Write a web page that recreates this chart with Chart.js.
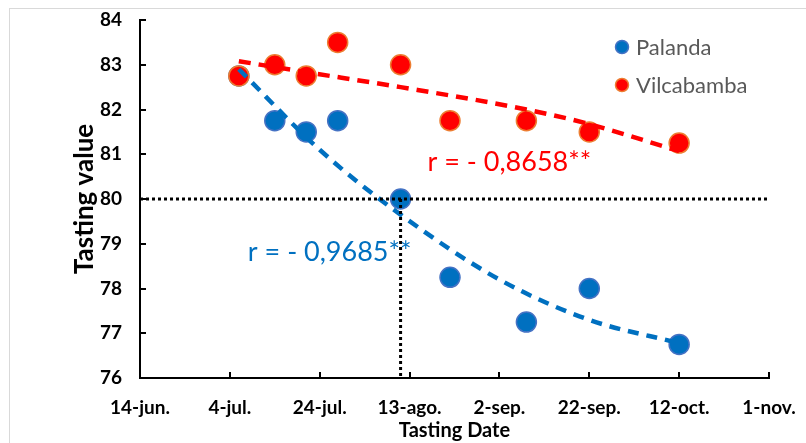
<!DOCTYPE html>
<html>
<head>
<meta charset="utf-8">
<script src="https://cdn.jsdelivr.net/npm/chart.js@4.4.1/dist/chart.umd.min.js"></script>
<style>
html, body { margin: 0; padding: 0; background: #fff; overflow: hidden; }
#wrap { position: relative; width: 806px; height: 443px; overflow: hidden; }
#frame { position: absolute; left: 9px; top: 8px; width: 900px; height: 500px; border: 1.5px solid #d9d9d9; }
#cut { position: absolute; left: 2px; top: -15px; font: bold 17px "Liberation Serif"; color: #000; white-space: nowrap; }
canvas { position: absolute; left: 0; top: 0; }
</style>
</head>
<body>
<div id="wrap">
  <div id="cut">colonization will be on the total taste evaluation.</div>
  <div id="frame"></div>
  <canvas id="tastingChart" width="806" height="443"></canvas>
</div>
<script>
// tasting dates (month-day) and values
const tastingDates = ['07-06', '07-14', '07-21', '07-28', '08-11', '08-22', '09-08', '09-22', '10-12'];
const palanda = [82.75, 81.75, 81.5, 81.75, 80.0, 78.25, 77.25, 78.0, 76.75];
const vilcabamba = [82.75, 83.0, 82.75, 83.5, 83.0, 81.75, 81.75, 81.5, 81.25];

// trend curves
const palandaTrendDates = ['07-06', '07-24', '08-11', '09-02', '09-22', '10-12'];
const palandaTrend = [82.9, 81.1, 79.65, 78.2, 77.3, 76.78];
const vilcabambaTrendDates = ['07-06', '07-20', '08-11', '09-08', '09-21', '10-12'];
const vilcabambaTrend = [83.08, 82.85, 82.5, 82.0, 81.7, 81.07];

// axis
const axisStart = '06-14';
const axisEnd = '11-01';
const xTickLabels = ['14-jun.', '4-jul.', '24-jul.', '13-ago.', '2-sep.', '22-sep.', '12-oct.', '1-nov.'];
const yMin = 76, yMax = 84;

// reference cross lines
const crossDate = '08-11';
const crossValue = 80;

const rPalanda = 'r = - 0,9685**';
const rVilcabamba = 'r = - 0,8658**';

function dayOf(md) {
    const [m, d] = md.split('-').map(Number);
    const [m0, d0] = axisStart.split('-').map(Number);
    return (Date.UTC(2019, m - 1, d) - Date.UTC(2019, m0 - 1, d0)) / 86400000;
}
function toPoints(dates, values) {
    return dates.map((md, i) => ({ x: dayOf(md), y: values[i] }));
}

const BLUE = '#0070C0';
const RED = '#FF0000';

const overlayPlugin = {
    id: 'overlay',
    afterDatasetsDraw(chart) {
        const { ctx, chartArea, scales: { x, y } } = chart;
        ctx.save();
        // inside tick marks
        ctx.strokeStyle = '#000';
        ctx.lineWidth = 2;
        ctx.beginPath();
        for (let v = yMin; v <= yMax; v++) {
            const py = Math.round(y.getPixelForValue(v));
            ctx.moveTo(chartArea.left, py);
            ctx.lineTo(chartArea.left + 6, py);
        }
        x.ticks.forEach(t => {
            const px = Math.round(x.getPixelForValue(t.value));
            ctx.moveTo(px, chartArea.bottom);
            ctx.lineTo(px, chartArea.bottom - 6);
        });
        ctx.stroke();

        // r labels
        ctx.font = '27px Lato';
        ctx.textBaseline = 'middle';
        ctx.textAlign = 'left';
        ctx.fillStyle = RED;
        ctx.fillText(rVilcabamba, x.getPixelForValue(dayOf('08-17')), y.getPixelForValue(80.83));
        ctx.fillStyle = BLUE;
        ctx.fillText(rPalanda, x.getPixelForValue(dayOf('07-08')), y.getPixelForValue(78.8));

        // legend
        const items = [
            { label: 'Palanda', fill: BLUE, border: '#4472C4' },
            { label: 'Vilcabamba', fill: RED, border: '#ED7D31' }
        ];
        ctx.font = '22px Lato';
        items.forEach((it, i) => {
            const cy = chartArea.top + 27 + i * 38;
            const cx = chartArea.right - 147;
            ctx.beginPath();
            ctx.arc(cx, cy, 6.5, 0, Math.PI * 2);
            ctx.fillStyle = it.fill;
            ctx.fill();
            ctx.lineWidth = 1.5;
            ctx.strokeStyle = it.border;
            ctx.stroke();
            ctx.fillStyle = '#595959';
            ctx.fillText(it.label, cx + 14, cy + 1);
        });
        ctx.restore();
    }
};

function noPad(s) {
    s.paddingTop = 0; s.paddingBottom = 0; s.paddingLeft = 0; s.paddingRight = 0;
}

const ctx = document.getElementById('tastingChart').getContext('2d');
window.tastingChart = new Chart(ctx, {
    type: 'scatter',
    data: {
        datasets: [
            {
                label: 'h80',
                data: [{ x: dayOf(axisStart), y: crossValue }, { x: dayOf(axisEnd), y: crossValue }],
                showLine: true,
                borderColor: '#000',
                borderWidth: 3,
                borderDash: [3, 3],
                pointRadius: 0
            },
            {
                label: 'v80',
                data: [{ x: dayOf(crossDate), y: crossValue }, { x: dayOf(crossDate), y: yMin }],
                showLine: true,
                borderColor: '#000',
                borderWidth: 3,
                borderDash: [3, 3],
                pointRadius: 0
            },
            {
                label: 'Vilcabamba trend',
                data: toPoints(vilcabambaTrendDates, vilcabambaTrend),
                showLine: true,
                borderColor: RED,
                borderWidth: 4.5,
                borderDash: [12, 8],
                cubicInterpolationMode: 'monotone',
                pointRadius: 0
            },
            {
                label: 'Palanda trend',
                data: toPoints(palandaTrendDates, palandaTrend),
                showLine: true,
                borderColor: BLUE,
                borderWidth: 4.5,
                borderDash: [11, 8],
                cubicInterpolationMode: 'monotone',
                pointRadius: 0
            },
            {
                label: 'Vilcabamba',
                data: toPoints(tastingDates, vilcabamba),
                backgroundColor: RED,
                borderColor: '#ED7D31',
                borderWidth: 1.5,
                pointRadius: 10
            },
            {
                label: 'Palanda',
                data: toPoints(tastingDates, palanda),
                backgroundColor: BLUE,
                borderColor: '#4472C4',
                borderWidth: 1.5,
                pointRadius: 10
            }
        ]
    },
    options: {
        responsive: false,
        animation: false,
        layout: { padding: { top: 20, right: 37, left: 0, bottom: 0 } },
        scales: {
            x: {
                type: 'linear',
                min: dayOf(axisStart),
                max: dayOf(axisEnd),
                afterFit: s => { s.height = 65; noPad(s); },
                grid: { display: false, drawTicks: false },
                border: { display: true, color: '#000', width: 2 },
                ticks: {
                    stepSize: 20,
                    padding: 18,
                    color: '#000',
                    font: { family: 'Lato', size: 19, weight: 'bold' },
                    maxRotation: 0,
                    callback: v => xTickLabels[Math.round(v / 20)]
                },
                title: {
                    display: true,
                    text: 'Tasting Date',
                    color: '#000',
                    font: { family: 'Lato', size: 20, weight: 'bold' },
                    padding: { top: 0, bottom: 0 }
                }
            },
            y: {
                min: yMin,
                max: yMax,
                afterFit: s => { s.width = 140; noPad(s); },
                grid: { display: false, drawTicks: false },
                border: { display: true, color: '#000', width: 2 },
                ticks: {
                    stepSize: 1,
                    padding: 18,
                    color: '#000',
                    font: { family: 'Lato', size: 19, weight: 'bold' }
                },
                title: {
                    display: true,
                    text: 'Tasting value',
                    color: '#000',
                    font: { family: 'Lato', size: 26, weight: 'bold' },
                    padding: { top: 69, bottom: 0 }
                }
            }
        },
        plugins: {
            legend: { display: false },
            tooltip: { enabled: false }
        }
    },
    plugins: [overlayPlugin]
});
</script>
</body>
</html>
